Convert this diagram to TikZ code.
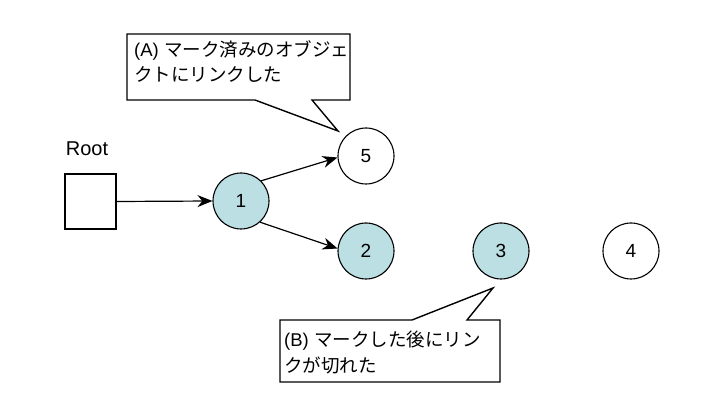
\documentclass[tikz,border=0pt]{standalone}
\usepackage{fontspec}
\setmainfont{Liberation Sans}
\newfontfamily\jp{Noto Sans CJK JP}
\usetikzlibrary{arrows.meta}
\definecolor{marked}{RGB}{187,223,226}
\begin{document}
\begin{tikzpicture}[x=1pt,y=-1pt,
  obj/.style={circle,draw,line width=1.1pt,minimum size=56pt,inner sep=0pt,font=\fontsize{19}{19}\selectfont},
  markedobj/.style={obj,fill=marked},
  ref/.style={-{Stealth[length=15pt,width=12pt]},line width=1.2pt},
  callout/.style={draw,fill=white,line width=1.4pt,line join=miter},
  ctext/.style={anchor=west,inner sep=0pt,font=\fontsize{18.5}{18.5}\selectfont}]
\useasboundingbox[fill=white] (0,0) rectangle (720,419);
% root
\node[draw,line width=1.1pt,minimum width=51pt,minimum height=55pt,inner sep=0pt] (root) at (90.5,201.5) {};
\node[inner sep=0pt,font=\fontsize{20}{20}\selectfont] (rootlabel) at (87,149) {Root};
% objects
\node[markedobj] (n1) at (241,201) {1};
\node[obj] (n5) at (366,156) {5};
\node[markedobj] (n2) at (366,251) {2};
\node[markedobj] (n3) at (501,251) {3};
\node[obj] (n4) at (631,251) {4};
% references
\draw[ref] (root.east) -- (n1.west);
\draw[ref] (n1.45) -- (n5.183);
\draw[ref] (n1.-48) -- (n2.175);
% callout A
\coordinate (tipA) at (338,131);
\draw[callout] (127,34) -- (350,34) -- (350,100) -- (312,100) -- (tipA) -- (255,100) -- (127,100) -- cycle;
\node[ctext] (a1) at (134,50) {(A) {\jp マーク済みのオブジェ}};
\node[ctext] (a2) at (134,75) {{\jp クトにリンクした}};
% callout B
\coordinate (tipB) at (493,288);
\draw[callout] (280,320) -- (412,320) -- (tipB) -- (467,320) -- (500,320) -- (500,382) -- (280,382) -- cycle;
\node[ctext] (b1) at (284,341) {(B) {\jp マークした後にリン}};
\node[ctext] (b2) at (284,365) {{\jp クが切れた}};
\end{tikzpicture}
\end{document}
